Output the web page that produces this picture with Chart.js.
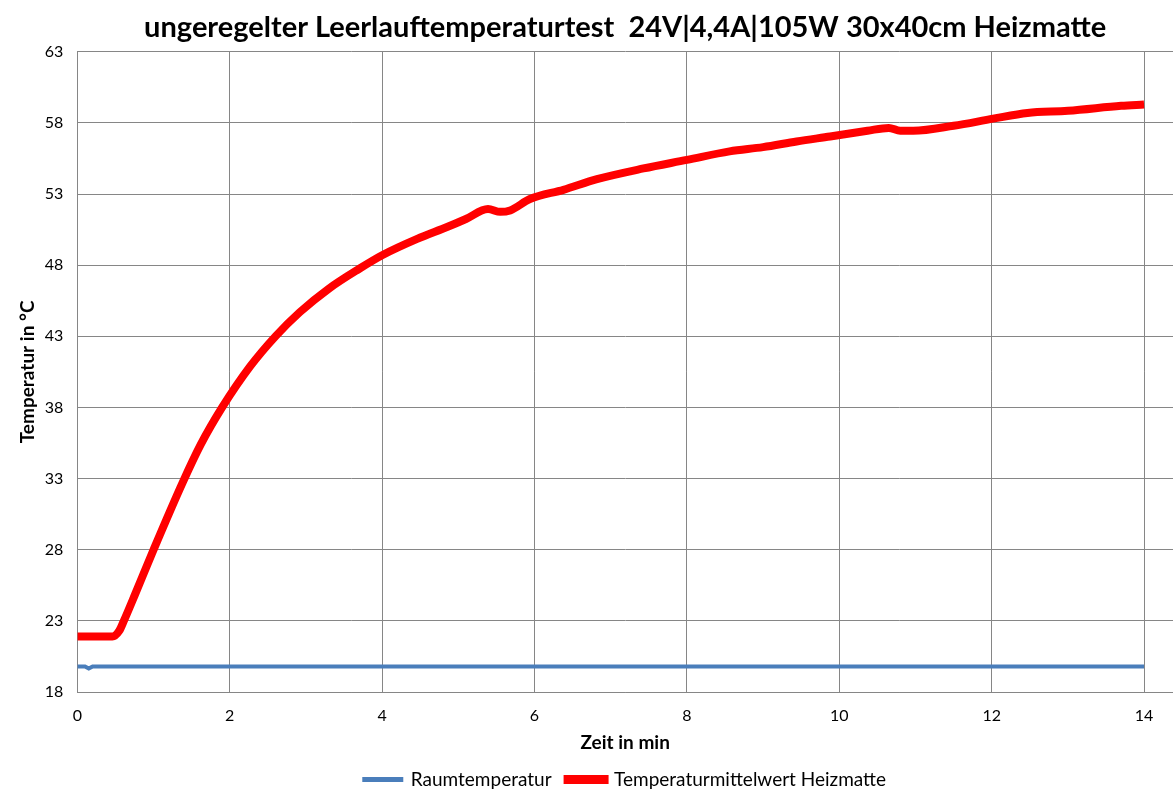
<!DOCTYPE html>
<html lang="de">
<head>
  <meta charset="UTF-8">
  <title>Leerlauftemperaturtest Heizmatte</title>
  <script src="https://cdn.jsdelivr.net/npm/chart.js"></script>
  <style>
    html, body { margin: 0; padding: 0; background: #fff; }
    #wrap { width: 1173px; height: 792px; }
  </style>
</head>
<body>
<div id="wrap"><canvas id="myChart"></canvas></div>

<script>
  // Zeit in min / Temperatur in °C
  var raumZeit = [0, 0.1, 0.15, 0.2, 14];
  var raumTemp = [19.8, 19.8, 19.65, 19.8, 19.8];

  var mattZeit = [0, 0.3, 0.46, 0.55, 0.61, 0.76, 1.0, 1.38, 1.62, 1.9, 2.27, 2.6, 2.92, 3.3, 3.7,
                  4.0, 4.46, 4.86, 5.1, 5.39, 5.55, 5.68, 5.94, 6.38, 6.82, 7.43, 8.0,
                  8.56, 9.0, 9.44, 9.88, 10.37, 10.65, 10.8, 10.97, 11.5, 12.02, 12.47, 13.0, 13.7, 14.0];
  var mattTemp = [21.9, 21.9, 21.9, 22.3, 23.0, 24.9, 28.0, 32.7, 35.4, 38.0, 40.9, 43.0, 44.7, 46.35, 47.75,
                  48.7, 49.85, 50.7, 51.25, 51.95, 51.75, 51.85, 52.65, 53.3, 54.05, 54.8, 55.4,
                  56.0, 56.3, 56.7, 57.05, 57.45, 57.65, 57.45, 57.45, 57.8, 58.3, 58.7, 58.85, 59.2, 59.3];

  var xTicks = [0, 2, 4, 6, 8, 10, 12, 14];
  var yTicks = [18, 23, 28, 33, 38, 43, 48, 53, 58, 63];

  function toPoints(xs, ys) {
    return xs.map(function (x, i) { return { x: x, y: ys[i] }; });
  }

  var FONT = "Lato, 'Open Sans', sans-serif";
  var grid = '#868686';

  var ctx = document.getElementById('myChart').getContext('2d');
  new Chart(ctx, {
    type: 'line',
    data: {
      datasets: [{
        label: 'Raumtemperatur',
        data: toPoints(raumZeit, raumTemp),
        borderColor: '#4a7ebb',
        backgroundColor: '#4a7ebb',
        borderWidth: 4,
        pointRadius: 0,
        tension: 0
      }, {
        label: 'Temperaturmittelwert Heizmatte',
        data: toPoints(mattZeit, mattTemp),
        borderColor: '#ff0000',
        backgroundColor: '#ff0000',
        borderWidth: 8,
        pointRadius: 0,
        cubicInterpolationMode: 'monotone'
      }]
    },
    options: {
      responsive: true,
      maintainAspectRatio: false,
      animation: false,
      layout: { padding: { top: 0, right: 0, bottom: -7, left: 8 } },
      plugins: {
        title: {
          display: true,
          fullSize: false,
          text: 'ungeregelter Leerlauftemperaturtest  24V|4,4A|105W 30x40cm Heizmatte',
          color: '#000',
          font: { family: FONT, size: 29, weight: 'bold' },
          padding: { top: 10, bottom: 7 }
        },
        legend: {
          position: 'bottom',
          fullSize: false,
          labels: {
            color: '#000',
            font: { family: FONT, size: 19 },
            boxWidth: 37,
            boxHeight: 1,
            padding: 16
          }
        },
        tooltip: { enabled: false }
      },
      scales: {
        x: {
          type: 'linear',
          min: 0,
          max: 14.38,
          afterBuildTicks: function (axis) {
            axis.ticks = xTicks.map(function (v) { return { value: v }; });
          },
          grid: { color: grid, drawTicks: false },
          border: { color: grid },
          ticks: { color: '#000', padding: 14, font: { family: FONT, size: 16 }, maxRotation: 0 },
          title: {
            display: true,
            text: 'Zeit in min',
            color: '#000',
            font: { family: FONT, size: 19, weight: 'bold' },
            padding: { top: -8, bottom: 0 }
          }
        },
        y: {
          min: 18,
          max: 63,
          afterBuildTicks: function (axis) {
            axis.ticks = yTicks.map(function (v) { return { value: v }; });
          },
          grid: { color: grid, drawTicks: false },
          border: { color: grid },
          ticks: { color: '#000', padding: 14, font: { family: FONT, size: 16 } },
          title: {
            display: true,
            text: 'Temperatur in °C',
            color: '#000',
            font: { family: FONT, size: 19, weight: 'bold' },
            padding: { top: 8, bottom: -8 }
          }
        }
      }
    }
  });
</script>
</body>
</html>
